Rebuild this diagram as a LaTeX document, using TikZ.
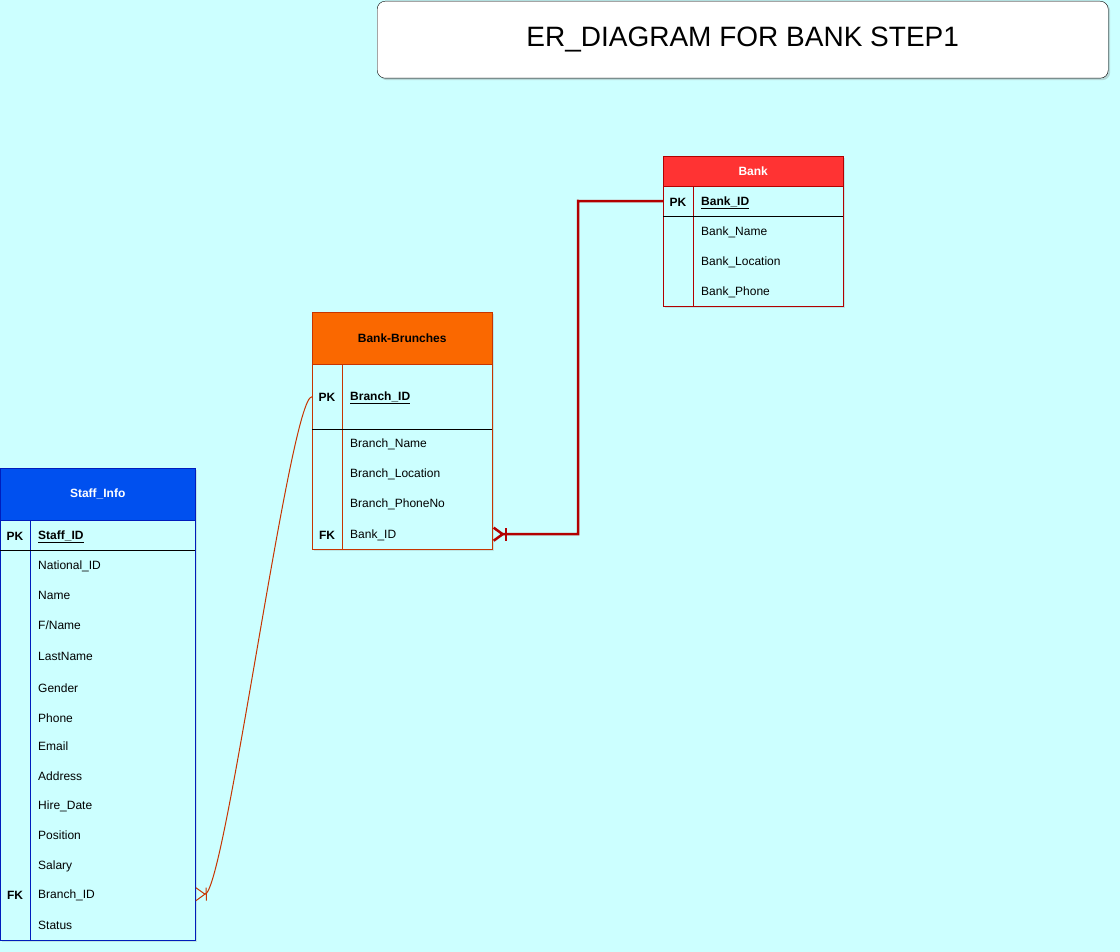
\documentclass[tikz,border=0pt]{standalone}
\usepackage{fontspec}
\setmainfont{Liberation Sans}
\usetikzlibrary{arrows.meta, positioning, shadows}
\definecolor{bgcyan}{RGB}{204,255,255}
\definecolor{bankred}{RGB}{255,51,51}
\definecolor{bankline}{RGB}{178,0,0}
\definecolor{branchorange}{RGB}{250,104,0}
\definecolor{branchline}{RGB}{199,53,0}
\definecolor{staffblue}{RGB}{0,80,239}
\definecolor{staffline}{RGB}{0,29,188}

\tikzset{
  tablebox/.style={draw, anchor=north west, inner sep=0pt, fill=bgcyan,
    drop shadow={opacity=0.2, shadow xshift=2pt, shadow yshift=-2pt}},
  headbox/.style={draw, anchor=north west, inner sep=0pt, text=white,
    font=\fontsize{12}{14}\selectfont\bfseries},
  keyrow/.style={anchor=north west, inner sep=0pt},
  attr/.style={anchor=west, inner sep=0pt, yshift=-1.5pt, font=\fontsize{12}{14}\selectfont},
  keytag/.style={inner sep=0pt, yshift=-1.5pt, font=\fontsize{12}{14}\selectfont\bfseries},
  manyend/.style={-{Bar[width=13pt] Straight Barb[reversed, length=9pt, width=13pt]}},
}

\begin{document}
\begin{tikzpicture}[x=1pt, y=-1pt]
  \fill[bgcyan] (0,0) rectangle (1120,952);
  \useasboundingbox (0,0) rectangle (1120,952);

  % title
  \node[draw, rounded corners=8pt, fill=white, anchor=north west, minimum width=731pt,
    minimum height=77pt, drop shadow={opacity=0.3, shadow xshift=2pt, shadow yshift=-2pt}]
    (title) at (377,1) {\fontsize{28}{32}\selectfont ER\_DIAGRAM FOR BANK STEP1};

  % Bank
  \node[tablebox, draw=bankline, minimum width=180pt, minimum height=150pt] (bank) at (663,156) {};
  \node[headbox, fill=bankred, draw=bankline, minimum width=180pt, minimum height=30pt] (bankhead) at (663,156) {Bank};
  \node[keyrow, minimum width=180pt, minimum height=30pt] (bankpk) at (663,186) {};
  \draw[bankline] (693,186) -- (693,306);
  \draw (663,216) -- (843,216);
  \node[keytag] at (678,201) {PK};
  \node[keytag, anchor=west] (bankid) at (701,201) {\underline{Bank\_ID}};
  \foreach \t [count=\i] in {Bank\_Name, Bank\_Location, Bank\_Phone}
    \node[attr] at (701,{201+30*\i}) {\t};

  % Bank-Brunches
  \node[tablebox, draw=branchline, minimum width=180pt, minimum height=237pt] (branch) at (312,312) {};
  \node[headbox, fill=branchorange, draw=branchline, text=black, minimum width=180pt, minimum height=52pt] (branchhead) at (312,312) {Bank-Brunches};
  \node[keyrow, minimum width=180pt, minimum height=65pt] (branchpk) at (312,364) {};
  \node[keyrow, minimum width=180pt, minimum height=30pt] (branchfk) at (312,519) {};
  \draw[branchline] (342,364) -- (342,549);
  \draw (312,429) -- (492,429);
  \node[keytag] at (327,396) {PK};
  \node[keytag, anchor=west] (branchid) at (350,396) {\underline{Branch\_ID}};
  \foreach \y/\t in {443/Branch\_Name, 473/Branch\_Location, 503/Branch\_PhoneNo, 534/Bank\_ID}
    \node[attr] at (350,\y) {\t};
  \node[keytag] at (327,534) {FK};

  % Staff_Info
  \node[tablebox, draw=staffline, minimum width=195pt, minimum height=472pt] (staff) at (0,468) {};
  \node[headbox, fill=staffblue, draw=staffline, minimum width=195pt, minimum height=52pt] (staffhead) at (0,468) {Staff\_Info};
  \node[keyrow, minimum width=195pt, minimum height=30pt] (stafffk) at (0,879) {};
  \draw[staffline] (30,520) -- (30,940);
  \draw (0,550) -- (195,550);
  \node[keytag] at (15,535) {PK};
  \node[keytag, anchor=west] (staffid) at (38,535) {\underline{Staff\_ID}};
  \foreach \y/\t in {565/National\_ID, 594/Name, 624/{F/Name}, 655/LastName, 687/Gender,
      717/Phone, 745/Email, 775/Address, 805/Hire\_Date, 834/Position, 865/Salary,
      894/Branch\_ID, 924/Status}
    \node[attr] at (38,\y) {\t};
  \node[keytag] at (15,894) {FK};

  % relations
  \coordinate (bend) at (578,201);
  \draw[bankline, line width=2.5pt, manyend] (bankpk.west) -- (bend) |- (branchfk.east);
  \draw[branchline, line width=1pt, manyend] (branchpk.west) .. controls (290,396) and (225,894) .. (stafffk.east);
\end{tikzpicture}
\end{document}
